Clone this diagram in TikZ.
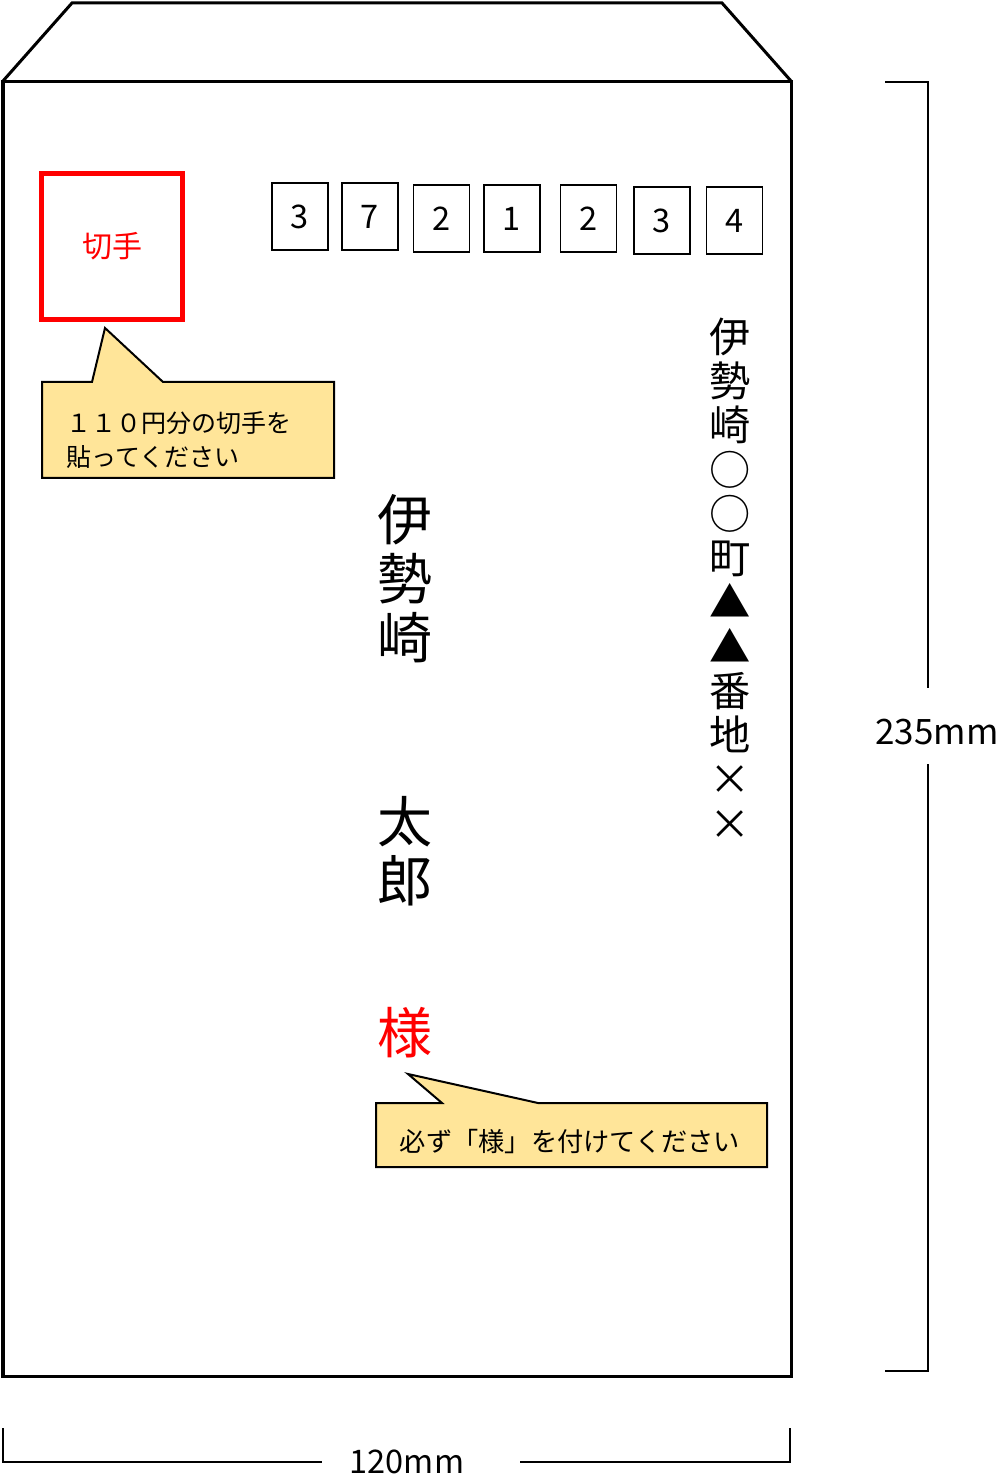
\documentclass[tikz,border=0pt]{standalone}
\usepackage{fontspec}
\setmainfont{Noto Sans CJK JP}
\usetikzlibrary{positioning}
\definecolor{notefill}{HTML}{FFE599}
\definecolor{stampred}{HTML}{FF0000}
\tikzstyle{envline} = [line width=1.2pt, line join=miter]
\tikzstyle{dimline} = [line width=0.6pt]
\tikzstyle{notebox} = [draw=black, line width=0.8pt, fill=notefill, line join=miter]
\tikzstyle{digitbox} = [rectangle, draw=black, line width=0.6pt, minimum width=22.4pt,
                        minimum height=26.8pt, inner sep=0pt, font=\fontsize{13}{13}\selectfont]
\tikzstyle{stampbox} = [rectangle, draw=stampred, line width=2pt, minimum width=56.5pt,
                        minimum height=58.5pt, text=stampred, font=\fontsize{12}{12}\selectfont]
\tikzstyle{tatebig} = [align=center, inner sep=0pt, font=\fontsize{22}{23.6}\selectfont]

\begin{document}
\begin{tikzpicture}[x=0.4pt, y=-0.4pt]
    \useasboundingbox (0,0) rectangle (1004,1477);

    % Envelope body and flap
    \draw[envline] (3,81) -- (72,3) -- (722,3) -- (791,81);
    \draw[envline] (3,82) rectangle (791,1376);

    % Stamp
    \node[stampbox] (stamp) at (112,246.5) {切手};

    % Stamp note
    \draw[notebox] (42,382) -- (92,382) -- (105,328) -- (163,382) -- (334,382)
        -- (334,478) -- (42,478) -- cycle;
    \node[anchor=west, align=left, inner sep=0pt, font=\fontsize{10}{13.6}\selectfont]
        (stampnote) at (66,440) {１１０円分の切手を\\貼ってください};

    % Postal code boxes
    \foreach \d/\cx/\cy [count=\i] in {3/300/216.5, 7/370/216.5, 2/441.5/218.5, 1/512/218.5,
                                       2/588.5/218.5, 3/662/220.5, 4/734.5/220.5}
        \node[digitbox] (zip\i) at (\cx,\cy) {\d};

    % Address
    \node[align=center, inner sep=0pt, font=\fontsize{16.5}{17.7}\selectfont] (addr) at (730,578.5)
        {伊\\勢\\崎\\○\\○\\町\\▲\\▲\\番\\地\\×\\×};

    % Name
    \node[tatebig] (family) at (405,579) {伊\\勢\\崎};
    \node[tatebig] (given) at (405,851) {太\\郎};
    \node[tatebig, text=stampred] (sama) at (405,1033) {様};

    % Sama note
    \draw[notebox] (376,1103) -- (442,1103) -- (408,1074) -- (538,1103) -- (767,1103)
        -- (767,1167) -- (376,1167) -- cycle;
    \node[inner sep=0pt, font=\fontsize{10.5}{12}\selectfont] (samanote) at (570,1142)
        {必ず「様」を付けてください};

    % Height dimension
    \node[font=\fontsize{14}{14}\selectfont, inner sep=0pt] (dimh) at (937,732) {235mm};
    \draw[dimline] (885,82) -- (928,82) -- (928,688);
    \draw[dimline] (928,764) -- (928,1371) -- (885,1371);

    % Width dimension
    \node[font=\fontsize{13}{13}\selectfont, inner sep=0pt, anchor=base] (dimw) at (407,1473) {120mm};
    \draw[dimline] (3,1428) -- (3,1462) -- (322,1462);
    \draw[dimline] (520,1462) -- (790,1462) -- (790,1428);
\end{tikzpicture}
\end{document}
